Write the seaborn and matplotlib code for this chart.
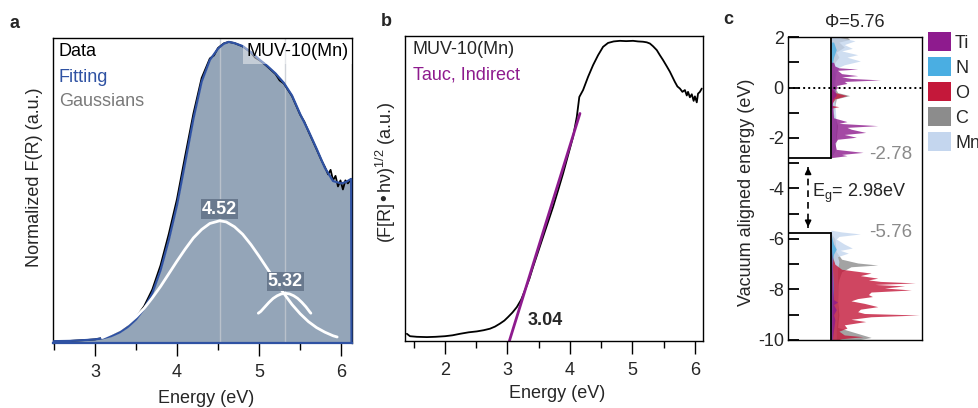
import numpy as np
import pandas as pd
import matplotlib
matplotlib.use("Agg")
import matplotlib.pyplot as plt
from matplotlib.patches import Patch
from matplotlib.ticker import MultipleLocator
import seaborn as sns

# ---------------- data: panel a ----------------
a_data_E = [2.50, 2.70, 2.90, 3.00, 3.10, 3.20, 3.30, 3.40, 3.50, 3.60, 3.70, 3.80, 3.90, 4.00,
            4.10, 4.20, 4.30, 4.40, 4.45, 4.50, 4.57, 4.63, 4.70, 4.80, 4.90, 4.95, 5.00, 5.05,
            5.10, 5.20, 5.25, 5.30, 5.40, 5.50, 5.55, 5.60, 5.70, 5.76, 5.80, 5.84, 5.87, 5.90,
            5.93, 5.96, 5.99, 6.02, 6.05, 6.08, 6.12]
a_data_I = [0.005, 0.007, 0.010, 0.012, 0.017, 0.025, 0.038, 0.057, 0.084, 0.122, 0.178, 0.258,
            0.362, 0.478, 0.622, 0.762, 0.880, 0.945, 0.955, 0.980, 0.995, 1.000, 0.996, 0.985,
            0.965, 0.948, 0.940, 0.930, 0.918, 0.893, 0.872, 0.862, 0.820, 0.758, 0.735, 0.703,
            0.643, 0.606, 0.585, 0.560, 0.575, 0.540, 0.555, 0.520, 0.540, 0.510, 0.540, 0.530,
            0.545]
a_fit_E = [2.50, 2.70, 2.90, 3.00, 3.10, 3.20, 3.30, 3.40, 3.50, 3.60, 3.70, 3.80, 3.90, 4.00,
           4.10, 4.20, 4.30, 4.40, 4.50, 4.57, 4.63, 4.70, 4.80, 4.90, 5.00, 5.10, 5.20, 5.30,
           5.40, 5.50, 5.60, 5.70, 5.80, 5.90, 6.00, 6.06, 6.12, 6.125]
a_fit_I = [0.006, 0.007, 0.010, 0.012, 0.016, 0.023, 0.035, 0.053, 0.078, 0.114, 0.166, 0.242,
           0.342, 0.458, 0.600, 0.745, 0.868, 0.940, 0.978, 0.994, 1.000, 0.996, 0.986, 0.966,
           0.942, 0.920, 0.895, 0.864, 0.822, 0.760, 0.705, 0.645, 0.582, 0.538, 0.530, 0.535,
           0.545, 0.0]
g1_E = [3.09, 3.20, 3.30, 3.40, 3.50, 3.60, 3.70, 3.80, 3.90, 4.00, 4.10, 4.20, 4.30, 4.40,
        4.52, 4.60, 4.70, 4.80, 4.90, 5.00, 5.10, 5.20, 5.30, 5.40, 5.50, 5.60, 5.70, 5.80,
        5.90, 5.95]
g1_I = [0.018, 0.031, 0.044, 0.063, 0.087, 0.115, 0.150, 0.188, 0.230, 0.272, 0.312, 0.349,
        0.377, 0.397, 0.406, 0.402, 0.386, 0.361, 0.327, 0.288, 0.247, 0.205, 0.165, 0.128,
        0.097, 0.071, 0.051, 0.036, 0.024, 0.020]
g2_E = [4.99, 5.02, 5.07, 5.12, 5.17, 5.22, 5.27, 5.32, 5.37, 5.42, 5.47, 5.52, 5.57, 5.62, 5.63]
g2_I = [0.099, 0.105, 0.120, 0.135, 0.148, 0.157, 0.163, 0.165, 0.163, 0.157, 0.148, 0.135,
        0.120, 0.102, 0.099]
peak_centers = [4.52, 5.32]
peak_label_y = [0.445, 0.204]

# ---------------- data: panel b ----------------
b_E = [1.39, 1.44, 1.55, 1.71, 1.85, 2.00, 2.12, 2.24, 2.38, 2.51, 2.62, 2.72, 2.80, 2.88,
       2.95, 3.01, 3.08, 3.15, 3.22, 3.28, 3.35, 3.41, 3.49, 3.57, 3.65, 3.73, 3.81, 3.89,
       3.97, 4.05, 4.11, 4.15, 4.21, 4.29, 4.37, 4.45, 4.53, 4.61, 4.70, 4.80, 4.90, 5.01,
       5.09, 5.17, 5.23, 5.28, 5.33, 5.39, 5.44, 5.49, 5.55, 5.60, 5.64, 5.68, 5.72, 5.76,
       5.80, 5.84, 5.87, 5.89, 5.92, 5.95, 5.98, 6.00, 6.03, 6.05, 6.08, 6.11]
b_I = [0.024, 0.016, 0.014, 0.013, 0.014, 0.016, 0.019, 0.024, 0.029, 0.032, 0.036, 0.041,
       0.048, 0.058, 0.068, 0.080, 0.095, 0.113, 0.138, 0.169, 0.207, 0.247, 0.297, 0.347,
       0.397, 0.447, 0.502, 0.558, 0.619, 0.680, 0.747, 0.813, 0.836, 0.880, 0.919, 0.952,
       0.980, 0.993, 0.998, 1.000, 0.999, 1.000, 0.998, 0.997, 0.995, 0.991, 0.982, 0.969,
       0.952, 0.936, 0.915, 0.897, 0.880, 0.863, 0.848, 0.841, 0.830, 0.836, 0.818, 0.830,
       0.812, 0.822, 0.800, 0.815, 0.795, 0.824, 0.830, 0.841]
tauc_E = [3.03, 4.16]
tauc_I = [0.0, 0.758]
tauc_gap = 3.04

# ---------------- data: panel c (DOS) ----------------
work_function = 5.76
cbm = -2.78
vbm = -5.76
gap = 2.98
elements = ["Ti", "N", "O", "C", "Mn"]
elem_colors = ["#8e1b8e", "#4aaee2", "#c4183a", "#8c8c8c", "#c4d6ee"]

ti_E = [1.0, 0.85, 0.78, 0.73, 0.68, 0.55, 0.47, 0.42, 0.36, 0.30, 0.24, 0.16, 0.08, 0.0,
        -0.1, -0.3, -0.5, -1.2, -1.35, -1.42, -1.51, -1.58, -1.65, -1.78, -1.86, -1.97, -2.05,
        -2.2, -2.45, -2.57, -2.65, -2.70, -2.78, -5.76, -8.4, -8.5, -8.6, -8.8, -9.0, -9.2, -10.0]
ti_I = [0.02, 0.03, 0.06, 0.20, 0.05, 0.08, 0.20, 0.08, 0.15, 0.37, 0.10, 0.12, 0.04, 0.05,
        0.03, 0.04, 0.01, 0.02, 0.12, 0.06, 0.35, 0.12, 0.15, 0.26, 0.10, 0.19, 0.05,
        0.03, 0.04, 0.24, 0.08, 0.12, 0.0, 0.0, 0.02, 0.05, 0.02, 0.04, 0.02, 0.03, 0.01]
n_E = [1.8, 1.5, 1.2, 0.9, 0.8, -5.8, -6.0, -6.2, -6.4, -6.6, -7.0, -8.0, -9.0, -10.0]
n_I = [0.02, 0.04, 0.02, 0.01, 0.0, 0.0, 0.01, 0.02, 0.04, 0.02, 0.01, 0.02, 0.01, 0.01]
o_E = [2.0, 0.0, -0.2, -0.32, -0.45, -0.70, -0.76, -0.82, -1.0, -2.78, -5.76, -6.5, -7.0,
       -7.2, -7.35, -7.45, -7.55, -7.62, -7.68, -7.74, -7.80, -7.86, -7.94, -8.02, -8.10,
       -8.20, -8.28, -8.36, -8.45, -8.55, -8.68, -8.78, -8.88, -8.95, -9.01, -9.08, -9.18,
       -9.27, -9.40, -9.53, -9.65, -9.80, -9.87, -9.95, -10.0]
o_I = [0.0, 0.0, 0.03, 0.12, 0.03, 0.0, 0.06, 0.0, 0.0, 0.0, 0.0, 0.0, 0.03,
       0.08, 0.30, 0.22, 0.35, 0.28, 0.37, 0.63, 0.33, 0.55, 0.40, 0.60, 0.30,
       0.28, 0.31, 0.20, 0.15, 0.25, 0.35, 0.22, 0.20, 0.25, 0.66, 0.30, 0.15,
       0.26, 0.10, 0.12, 0.06, 0.10, 0.24, 0.08, 0.05]
c_E = [2.0, 1.9, 1.8, 1.6, 1.4, 1.2, 1.0, 0.8, 0.5, 0.2, 0.0, -0.2, -0.32, -0.45, -1.0,
       -1.5, -2.0, -2.5, -2.78, -5.76, -6.0, -6.5, -6.8, -6.95, -7.03, -7.1, -7.3, -7.6,
       -8.0, -8.5, -9.0, -9.5, -9.9, -10.0]
c_I = [0.12, 0.14, 0.06, 0.10, 0.04, 0.06, 0.03, 0.02, 0.03, 0.02, 0.03, 0.05, 0.14, 0.04, 0.02,
       0.05, 0.04, 0.03, 0.0, 0.0, 0.03, 0.04, 0.08, 0.20, 0.35, 0.15, 0.08, 0.06,
       0.05, 0.05, 0.06, 0.05, 0.30, 0.20]
mn_E = [2.0, 1.85, 1.7, 1.55, 1.45, 1.3, 1.2, 1.05, 0.9, 0.8, 0.6, 0.2, -0.5, -1.5, -2.5,
        -2.78, -5.65, -5.72, -5.80, -5.90, -6.0, -6.2, -6.36, -6.45, -6.56, -6.7, -6.9, -7.2,
        -7.6, -8.0, -8.5, -9.0, -9.5, -10.0]
mn_I = [0.05, 0.18, 0.10, 0.16, 0.08, 0.20, 0.12, 0.22, 0.10, 0.06, 0.04, 0.03, 0.03, 0.04, 0.03,
        0.0, 0.0, 0.08, 0.22, 0.06, 0.04, 0.10, 0.16, 0.07, 0.13, 0.05, 0.06, 0.05,
        0.05, 0.06, 0.05, 0.05, 0.04, 0.04]

# ---------------- style ----------------
sns.set_theme(style="ticks")
plt.rcParams["font.family"] = ["Liberation Sans", "DejaVu Sans"]
plt.rcParams["mathtext.default"] = "regular"
plt.rcParams["axes.linewidth"] = 1.0
plt.rcParams["axes.edgecolor"] = "black"

FS = 13
BLUE = "#2f52a3"
FILL = "#94a5b8"
PURPLE = "#8e1b8e"

fig = plt.figure(figsize=(9.79, 4.08), dpi=100)
axa = fig.add_axes([0.0541, 0.1593, 0.3054, 0.7476])
axb = fig.add_axes([0.4137, 0.1642, 0.3044, 0.7475])
axc = fig.add_axes([0.8049, 0.1667, 0.1369, 0.7426])

def energy_axis(ax, xlim, ylim):
    ax.set_xlim(*xlim)
    ax.set_ylim(*ylim)
    ax.set_yticks([])
    ax.xaxis.set_major_locator(MultipleLocator(1))
    ax.xaxis.set_minor_locator(MultipleLocator(0.5))
    ax.tick_params(axis="x", which="major", direction="out", length=9, width=1.0,
                   labelsize=FS, pad=6, color="black")
    ax.tick_params(axis="x", which="minor", direction="out", length=5, width=1.0, color="black")
    for s in ax.spines.values():
        s.set_visible(True)
        s.set_color("black")
    ax.set_xlabel("Energy (eV)", fontsize=FS)

# ---------------- panel a ----------------
df_fit = pd.DataFrame({"E": a_fit_E, "I": a_fit_I})
axa.fill_between(a_fit_E, a_fit_I, 0, color=FILL, linewidth=0, zorder=1)
for c in peak_centers:
    axa.axvline(c, color="#c3c9d0", lw=1.0, alpha=0.8, zorder=1.5)
sns.lineplot(x=a_data_E, y=a_data_I, ax=axa, color="black", lw=1.3, estimator=None, zorder=2)
sns.lineplot(data=df_fit, x="E", y="I", ax=axa, color=BLUE, lw=1.6, estimator=None,
             sort=False, zorder=3).lines[-1].set_clip_on(False)
sns.lineplot(x=g1_E, y=g1_I, ax=axa, color="white", lw=2.0, estimator=None, zorder=4)
sns.lineplot(x=g2_E, y=g2_I, ax=axa, color="white", lw=2.0, estimator=None, zorder=4)
for c, y in zip(peak_centers, peak_label_y):
    axa.text(c, y, f"{c:.2f}", ha="center", va="center", color="white", fontsize=13,
             fontweight="bold", zorder=5,
             bbox=dict(boxstyle="square,pad=0.06", fc="#65758a", ec="none", alpha=0.9))
energy_axis(axa, (2.49, 6.13), (0, 1.013))
axa.spines["bottom"].set_color(BLUE)
axa.spines["bottom"].set_linewidth(1.6)
axa.set_ylabel("Normalized F(R) (a.u.)", fontsize=FS)
axa.yaxis.set_label_coords(-0.033, 0.544)
axa.xaxis.set_label_coords(0.512, -0.155)
axa.text(0.02, 0.955, "Data", transform=axa.transAxes, color="black", fontsize=13, va="center")
axa.text(0.02, 0.872, "Fitting", transform=axa.transAxes, color=BLUE, fontsize=13, va="center")
axa.text(0.02, 0.792, "Gaussians", transform=axa.transAxes, color="#7a7a7a", fontsize=13, va="center")
axa.text(0.988, 0.955, "MUV-10(Mn)", transform=axa.transAxes, color="black", fontsize=13,
         va="center", ha="right", zorder=6,
         bbox=dict(boxstyle="square,pad=0.2", fc="white", ec="none", alpha=0.45))

# ---------------- panel b ----------------
sns.lineplot(x=b_E, y=b_I, ax=axb, color="black", lw=1.3, estimator=None)
sns.lineplot(x=tauc_E, y=tauc_I, ax=axb, color=PURPLE, lw=2.0, estimator=None)
energy_axis(axb, (1.36, 6.13), (0, 1.016))
axb.set_ylabel("(F[R]\u2022h\u03bd)$^{1/2}$ (a.u.)", fontsize=FS)
axb.yaxis.set_label_coords(-0.023, 0.554)
axb.xaxis.set_label_coords(0.512, -0.143)
axb.text(0.026, 0.955, "MUV-10(Mn)", transform=axb.transAxes, fontsize=13, va="center")
axb.text(0.026, 0.872, "Tauc, Indirect", transform=axb.transAxes, fontsize=13, va="center",
         color=PURPLE)
axb.text(3.33, 0.069, f"{tauc_gap:.2f}", fontsize=13, fontweight="bold", va="center", ha="left")

# ---------------- panel c ----------------
x0 = 0.32
order = [("C", c_E, c_I), ("Mn", mn_E, mn_I), ("O", o_E, o_I), ("N", n_E, n_I), ("Ti", ti_E, ti_I)]
cmap = dict(zip(elements, elem_colors))
for name, E, I in order:
    xs = [x0 + v for v in I]
    axc.fill_betweenx(E, x0, xs, color=cmap[name], alpha=0.8, linewidth=0, zorder=2)
axc.set_xlim(0, 1)
axc.set_ylim(-10, 2)
axc.set_xticks([])
axc.yaxis.set_major_locator(MultipleLocator(2))
axc.yaxis.set_minor_locator(MultipleLocator(1))
axc.tick_params(axis="y", which="both", direction="in", length=8, width=1.3, labelsize=FS, pad=3,
                left=True, color="black")
for s in axc.spines.values():
    s.set_visible(True)
    s.set_color("black")
axc.set_ylabel("Vacuum aligned energy (eV)", fontsize=FS)
axc.yaxis.set_label_coords(-0.246, 0.487)
axc.set_yticklabels([f"{int(v)}" for v in axc.get_yticks()])
# band edges
axc.plot([x0, x0], [2, cbm], color="black", lw=1.3, zorder=3)
axc.plot([0, x0], [cbm, cbm], color="black", lw=1.3, zorder=3)
axc.plot([x0, x0], [vbm, -10], color="black", lw=1.3, zorder=3)
axc.plot([0, x0], [vbm, vbm], color="black", lw=1.3, zorder=3)
axc.axhline(0, color="black", lw=1.4, ls=(0, (1, 1.6)), zorder=4)
# gap arrow
xa = 0.15
axc.plot([xa, xa], [cbm - 0.35, vbm + 0.2], color="black", lw=1.2, ls=(0, (4, 3)), zorder=3)
axc.annotate("", xy=(xa, cbm - 0.28), xytext=(xa, cbm - 0.75),
             arrowprops=dict(arrowstyle="-|>", color="black", lw=1.2, mutation_scale=9))
axc.annotate("", xy=(xa, vbm + 0.12), xytext=(xa, vbm + 0.6),
             arrowprops=dict(arrowstyle="-|>", color="black", lw=1.2, mutation_scale=9))
axc.text(0.18, -4.18, f"E$_g$= {gap:.2f}eV", fontsize=13, va="center", ha="left", zorder=5,
         bbox=dict(boxstyle="square,pad=0.1", fc="white", ec="none"))
axc.text(0.605, cbm + 0.11, f"{cbm:.2f}", fontsize=13.5, color="#8a8a8a", va="center", ha="left")
axc.text(0.605, vbm, f"{vbm:.2f}", fontsize=13.5, color="#8a8a8a", va="center", ha="left")
axc.set_title(f"\u03a6={work_function:.2f}", fontsize=13, pad=7)

handles = [Patch(facecolor=c, edgecolor="none") for c in elem_colors]
fig.legend(handles, elements, loc="upper left", bbox_to_anchor=(928 / 979, 1 - 32 / 408),
           frameon=False, fontsize=13, handlelength=1.25, handleheight=1.25,
           handletextpad=0.25, labelspacing=0.3, borderaxespad=0, borderpad=0)

# panel letters
fig.text(10 / 979, 1 - 23 / 408, "a", fontsize=13, fontweight="bold", va="center")
fig.text(381 / 979, 1 - 22 / 408, "b", fontsize=13, fontweight="bold", va="center")
fig.text(723 / 979, 1 - 20 / 408, "c", fontsize=13, fontweight="bold", va="center")

fig.savefig("out.png", dpi=100)
